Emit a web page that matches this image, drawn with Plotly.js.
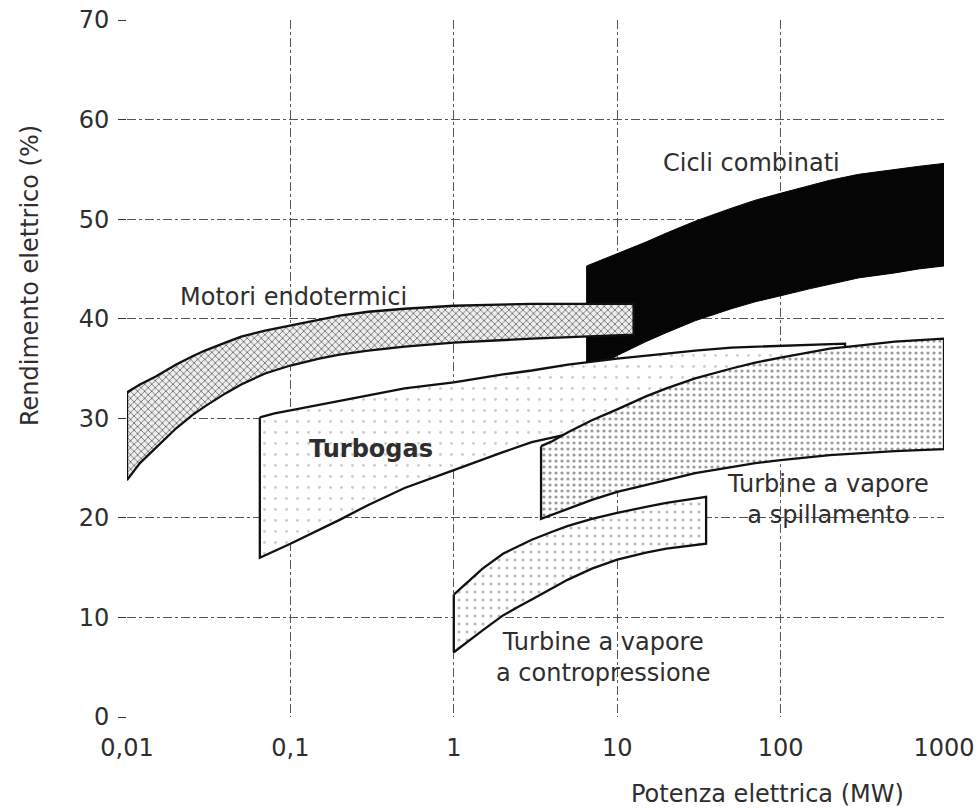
<!DOCTYPE html>
<html><head><meta charset="utf-8">
<script src="https://cdn.plot.ly/plotly-3.0.1.min.js"></script>
<style>html,body{margin:0;padding:0;background:#fff}#c{width:979px;height:811px}</style>
</head><body><div id="c"></div>
<script>
// Potenza elettrica (MW) vs Rendimento elettrico (%)
const xTickVals = [0.01, 0.1, 1, 10, 100, 1000];
const xTickText = ["0,01", "0,1", "1", "10", "100", "1000"];
const yTickVals = [0, 10, 20, 30, 40, 50, 60, 70];

// Motori endotermici
const motoriX      = [0.01, 0.012, 0.015, 0.02, 0.025, 0.03, 0.04, 0.05, 0.07, 0.1, 0.15, 0.2, 0.3, 0.5, 1, 3, 12.6];
const motoriTop    = [32.6, 33.4, 34.2, 35.4, 36.2, 36.8, 37.6, 38.2, 38.8, 39.3, 39.9, 40.3, 40.7, 41.0, 41.3, 41.5, 41.5];
const motoriBottom = [23.8, 25.5, 27.0, 29.0, 30.3, 31.2, 32.5, 33.4, 34.5, 35.3, 36.0, 36.4, 36.8, 37.2, 37.6, 38.0, 38.4];

// Cicli combinati
const cicliX      = [6.5, 8, 10, 15, 20, 30, 50, 70, 100, 150, 200, 300, 500, 700, 1000];
const cicliTop    = [45.3, 45.9, 46.5, 47.7, 48.6, 49.8, 51.1, 51.9, 52.6, 53.4, 53.9, 54.5, 55.0, 55.3, 55.6];
const cicliBottom = [34.2, 35.3, 36.3, 37.7, 38.6, 39.8, 41.0, 41.7, 42.3, 43.0, 43.5, 44.1, 44.6, 45.0, 45.3];

// Turbogas
const turboTopX    = [0.065, 0.08, 0.1, 0.2, 0.3, 0.5, 1, 2, 3, 5, 10, 20, 30, 50, 100, 248];
const turboTop     = [30.1, 30.5, 30.8, 31.7, 32.3, 33.0, 33.6, 34.4, 34.8, 35.4, 36.0, 36.5, 36.8, 37.1, 37.3, 37.5];
const turboBotX    = [0.065, 0.1, 0.2, 0.3, 0.5, 1, 2, 3, 5, 7, 10, 20, 30, 100, 248];
const turboBottom  = [16.0, 17.4, 19.8, 21.3, 23.0, 24.8, 26.6, 27.6, 28.4, 28.8, 29.0, 29.2, 29.3, 29.5, 29.5];

// Turbine a vapore a spillamento
const spillX      = [3.42, 4, 5, 7, 10, 15, 20, 30, 50, 70, 100, 200, 300, 500, 1000];
const spillTop    = [27.2, 27.7, 28.6, 29.8, 30.9, 32.2, 33.0, 34.0, 35.0, 35.6, 36.1, 37.0, 37.3, 37.7, 38.0];
const spillBottom = [19.9, 20.3, 20.9, 21.8, 22.6, 23.3, 23.8, 24.5, 25.1, 25.5, 25.8, 26.3, 26.5, 26.7, 26.9];

// Turbine a vapore a contropressione
const controX      = [1, 1.2, 1.5, 2, 2.5, 3, 4, 5, 7, 10, 15, 20, 35];
const controTop    = [12.3, 13.5, 14.9, 16.4, 17.2, 17.8, 18.6, 19.2, 19.9, 20.5, 21.1, 21.5, 22.1];
const controBottom = [6.5, 7.5, 8.7, 10.2, 11.1, 11.8, 12.9, 13.8, 14.9, 15.8, 16.5, 16.9, 17.4];

// Labels
const labelText = ["Motori endotermici", "Cicli combinati", "<b>Turbogas</b>",
                   "Turbine a vapore<br>a spillamento", "Turbine a vapore<br>a contropressione"];
const labelX = [0.104, 66.8, 0.31, 195, 8.3];
const labelY = [42.2, 55.6, 26.9, 21.8, 6.0];

const FONT = 'DejaVu Sans, Liberation Sans, Arial, sans-serif';
const TXT = '#2e2e2e';

function poly(xt, yt, xb, yb) {
  return {x: xt.concat(xb.slice().reverse(), [xt[0]]),
          y: yt.concat(yb.slice().reverse(), [yt[0]])};
}
const edge = {color: '#111', width: 2.3};
const traces = [];
let p;
p = poly(cicliX, cicliTop, cicliX, cicliBottom);
traces.push({x: p.x, y: p.y, type: 'scatter', mode: 'lines', fill: 'toself',
  fillcolor: '#050505', line: {color: '#050505', width: 1}, hoverinfo: 'skip'});
p = poly(motoriX, motoriTop, motoriX, motoriBottom);
traces.push({x: p.x, y: p.y, type: 'scatter', mode: 'lines', fill: 'toself',
  fillpattern: {shape: 'x', size: 5, solidity: 0.3, fgcolor: '#666', bgcolor: '#eeeeee'},
  line: edge, hoverinfo: 'skip'});
p = poly(turboTopX, turboTop, turboBotX, turboBottom);
traces.push({x: p.x, y: p.y, type: 'scatter', mode: 'lines', fill: 'toself',
  fillpattern: {shape: '.', size: 11, solidity: 0.05, fgcolor: '#ccc', bgcolor: '#ffffff'},
  line: edge, hoverinfo: 'skip'});
p = poly(spillX, spillTop, spillX, spillBottom);
traces.push({x: p.x, y: p.y, type: 'scatter', mode: 'lines', fill: 'toself',
  fillpattern: {shape: '.', size: 6, solidity: 0.22, fgcolor: '#999', bgcolor: '#ffffff'},
  line: edge, hoverinfo: 'skip'});
p = poly(controX, controTop, controX, controBottom);
traces.push({x: p.x, y: p.y, type: 'scatter', mode: 'lines', fill: 'toself',
  fillpattern: {shape: '.', size: 8, solidity: 0.12, fgcolor: '#bbb', bgcolor: '#ffffff'},
  line: edge, hoverinfo: 'skip'});

const annotations = labelText.map((t, i) => ({
  x: Math.log10(labelX[i]), y: labelY[i], xref: 'x', yref: 'y', text: t,
  showarrow: false, align: 'center',
  font: {family: FONT, size: 24, color: TXT}
}));
annotations.push({xref: 'paper', yref: 'paper', x: (767 - 127) / 817, y: -(794 - 717) / 697,
  xanchor: 'center', yanchor: 'middle',
  text: 'Potenza elettrica (MW)', showarrow: false,
  font: {family: FONT, size: 24, color: TXT}});
annotations.push({xref: 'paper', yref: 'paper', x: -(127 - 30) / 817, y: (717 - 276) / 697,
  xanchor: 'center', yanchor: 'middle',
  text: 'Rendimento elettrico (%)', textangle: -90, showarrow: false,
  font: {family: FONT, size: 24, color: TXT}});

const layout = {
  width: 979, height: 811,
  margin: {l: 127, r: 35, t: 20, b: 94},
  paper_bgcolor: '#fff', plot_bgcolor: '#fff',
  showlegend: false,
  font: {family: FONT, size: 24, color: TXT},
  xaxis: {type: 'log', range: [-2, 3], tickvals: xTickVals, ticktext: xTickText,
    tickfont: {family: FONT, size: 24, color: TXT},
    showgrid: true, gridcolor: '#555', gridwidth: 1, griddash: 'dashdot',
    zeroline: false, showline: false, ticks: '', ticklabelstandoff: 14},
  yaxis: {range: [0, 70], tickvals: yTickVals, showgrid: true, gridcolor: '#555',
    tickfont: {family: FONT, size: 24, color: TXT},
    gridwidth: 1, griddash: 'dashdot', zeroline: false, showline: false,
    ticks: 'outside', ticklen: 8, tickcolor: '#333', ticklabelstandoff: 4},
  annotations: annotations
};
Plotly.newPlot('c', traces, layout, {displayModeBar: false, staticPlot: true});
</script></body></html>
